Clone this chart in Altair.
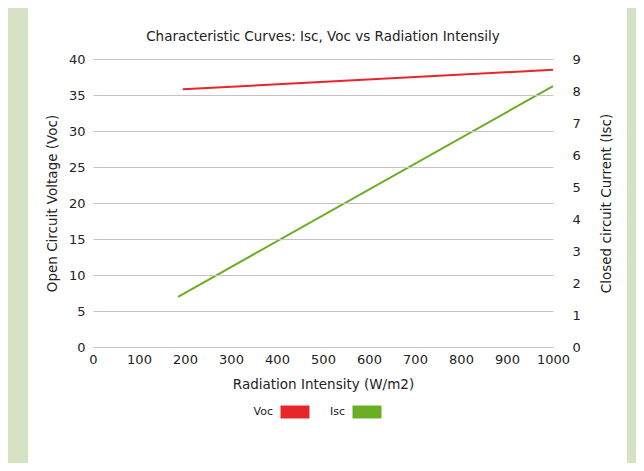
import altair as alt
import pandas as pd

# Data
series_voc_x = [195, 1000]
series_voc_y = [35.8, 38.5]
series_isc_x = [185, 1000]
series_isc_y = [1.57, 8.15]

x_ticks = list(range(0, 1100, 100))
left_ticks = list(range(0, 45, 5))
right_ticks = list(range(0, 10, 1))

series_names = ["Voc", "Isc"]
series_colors = ["#e8262a", "#6aaf23"]

voc = pd.DataFrame({"x": series_voc_x, "v": series_voc_y, "series": "Voc"})
isc = pd.DataFrame({"x": series_isc_x, "v": series_isc_y, "series": "Isc"})

FONT = "DejaVu Sans"
TXT = "#222222"

xenc = alt.X("x:Q", scale=alt.Scale(domain=[0, 1000], nice=False),
             axis=alt.Axis(values=x_ticks, format="d", labelOverlap=False, labelFlush=False,
                           title="Radiation Intensity (W/m2)", grid=False,
                           domain=False, ticks=False, labelPadding=6, titlePadding=11,
                           labelFontSize=13, titleFontSize=13.5, zindex=1))

color = alt.Color("series:N",
                  scale=alt.Scale(domain=series_names, range=series_colors),
                  legend=alt.Legend(title=None, orient="none", legendX=181, legendY=332,
                                    direction="horizontal",
                                    symbolType="M-1,0H1", symbolSize=841,
                                    symbolStrokeWidth=13, symbolOpacity=1,
                                    labelAlign="right", labelOffset={"expr": "-43"},
                                    labelFontSize=11, columnPadding={"expr": "-10"},
                                    zindex=1))

# white panel behind the chart (decoration)
panel = alt.Chart(pd.DataFrame({"a": [0]})).mark_rect(color="white").encode(
    x=alt.value(-65), x2=alt.value(534), y=alt.value(-51), y2=alt.value(404)
)

voc_line = alt.Chart(voc).mark_line(strokeWidth=2).encode(
    x=xenc,
    y=alt.Y("v:Q", scale=alt.Scale(domain=[0, 40], nice=False),
            axis=alt.Axis(orient="left", values=left_ticks, title="Open Circuit Voltage (Voc)",
                          grid=True, gridColor="#c4c4c4", domain=False, ticks=False,
                          labelPadding=8, titlePadding=9, labelFontSize=13,
                          titleFontSize=13.5, zindex=1)),
    color=color,
)

isc_line = alt.Chart(isc).mark_line(strokeWidth=2).encode(
    x=xenc,
    y=alt.Y("v:Q", scale=alt.Scale(domain=[0, 9], nice=False),
            axis=alt.Axis(orient="right", values=right_ticks, title="Closed circuit Current (Isc)",
                          grid=False, domain=False, ticks=False, titleAngle=270,
                          labelPadding=19, titlePadding=33, labelFontSize=13,
                          titleFontSize=13.5, zindex=1)),
    color=color,
)

chart = alt.layer(panel, voc_line, isc_line).resolve_scale(y="independent").properties(
    width=460, height=288,
    title=alt.TitleParams("Characteristic Curves: Isc, Voc vs Radiation Intensily",
                          fontSize=13.5, fontWeight="normal", font=FONT, color=TXT,
                          offset=0, dy=35, zindex=1),
    background="#d5e3c4",
    padding={"left": 85, "top": 51, "right": 83, "bottom": 116},
    autosize=alt.AutoSizeParams(type="none"),
).configure_axis(
    labelFont=FONT, titleFont=FONT, labelColor=TXT, titleColor=TXT, titleFontWeight="normal"
).configure_legend(
    labelFont=FONT, labelColor=TXT
).configure_view(
    stroke="#c4c4c4", strokeWidth=1
)

chart.save("out.html", embed_options={"renderer": "svg", "actions": False})
